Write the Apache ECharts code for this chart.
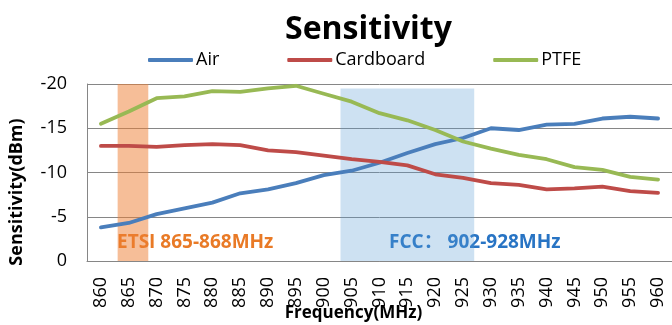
<!DOCTYPE html>
<html>
<head>
<meta charset="utf-8">
<script src="https://cdn.jsdelivr.net/npm/echarts@6/dist/echarts.min.js"></script>
<style>
  html, body { margin: 0; padding: 0; background: #fff; }
  #chart { width: 672px; height: 325px; }
</style>
</head>
<body>
<div id="chart"></div>
<script>
// Frequency steps (MHz) along the category axis
const frequencies = ['860','865','870','875','880','885','890','895','900','905','910',
                     '915','920','925','930','935','940','945','950','955','960'];

// Measured sensitivity (dBm) per mounting surface
const air = [-3.8, -4.3, -5.3, -5.95, -6.6, -7.65, -8.1, -8.8, -9.7, -10.2, -11.1,
             -12.2, -13.2, -13.9, -15.0, -14.8, -15.4, -15.5, -16.1, -16.3, -16.1];
const cardboard = [-13.0, -13.0, -12.9, -13.1, -13.2, -13.1, -12.5, -12.3, -11.9, -11.5, -11.2,
                   -10.8, -9.8, -9.4, -8.8, -8.6, -8.1, -8.2, -8.4, -7.9, -7.7];
const ptfe = [-15.5, -16.9, -18.4, -18.6, -19.2, -19.1, -19.5, -19.8, -18.9, -18.0, -16.7,
              -15.9, -14.8, -13.5, -12.7, -12.0, -11.5, -10.6, -10.3, -9.5, -9.2];

// Regulatory bands, in MHz, and their shaded heights (dBm)
const etsiBand = [863, 868.5, -20];
const fccBand = [903, 927, -19.5];

const seriesNames = ['Air', 'Cardboard', 'PTFE'];
const yTicks = { min: -20, max: 0, step: 5 };

const FONT = '"Open Sans", "Noto Sans CJK SC", sans-serif';

const chart = echarts.init(document.getElementById('chart'));

function lineSeries(name, data, color) {
  return {
    name: name,
    type: 'line',
    data: data,
    xAxisIndex: 0,
    yAxisIndex: 0,
    symbol: 'none',
    showSymbol: false,
    z: 2,
    lineStyle: { color: color, width: 3.8, join: 'round', cap: 'round' },
    itemStyle: { color: color }
  };
}

chart.setOption({
  animation: false,
  backgroundColor: '#fff',
  textStyle: { fontFamily: FONT },
  title: {
    text: 'Sensitivity',
    left: 280,
    top: 9,
    textStyle: { fontFamily: FONT, fontSize: 32, fontWeight: 'bold', color: '#000' }
  },
  legend: {
    data: seriesNames,
    left: 143,
    top: 46,
    itemWidth: 45,
    itemHeight: 4,
    itemGap: 68,
    icon: 'roundRect',
    textStyle: { fontFamily: FONT, fontSize: 18, color: '#000', padding: [0, 0, 0, -2] }
  },
  grid: { left: 87, right: 0, top: 84, bottom: 64, containLabel: false, outerBoundsMode: 'none' },
  xAxis: [
    {
      type: 'category',
      data: frequencies,
      boundaryGap: true,
      position: 'bottom',
      axisLine: { show: true, onZero: false, lineStyle: { color: '#868686', width: 1 } },
      axisTick: { show: false },
      axisLabel: { rotate: 90, margin: 16, fontFamily: FONT, fontSize: 18, color: '#000' },
      name: 'Frequency(MHz)',
      nameLocation: 'middle',
      nameGap: 44,
      nameMoveOverlap: false,
      nameTextStyle: { fontFamily: FONT, fontSize: 17, fontWeight: 'bold', color: '#000', padding: [0, 52, 0, 0] }
    },
    {
      // hidden linear frequency axis used to place the band shading in MHz
      type: 'value',
      min: 857.5,
      max: 962.5,
      show: false
    }
  ],
  yAxis: {
    type: 'value',
    min: yTicks.min,
    max: yTicks.max,
    interval: yTicks.step,
    inverse: true,
    axisLine: { show: true, lineStyle: { color: '#868686', width: 1 } },
    axisTick: { show: false },
    splitLine: { show: true, lineStyle: { color: '#868686', width: 1 } },
    axisLabel: { margin: 20, fontFamily: FONT, fontSize: 18, color: '#000' }
  },
  graphic: [
    {
      // vertical axis title
      type: 'text',
      x: 17,
      y: 192,
      rotation: Math.PI / 2,
      z: 0,
      style: { text: 'Sensitivity(dBm)', fontFamily: FONT, fontSize: 18, fontWeight: 'bold', fill: '#000',
               align: 'center', verticalAlign: 'middle' }
    },
    {
      type: 'text',
      left: 117,
      top: 233,
      z: 0,
      style: { text: 'ETSI 865-868MHz', fontFamily: FONT, fontSize: 19, fontWeight: 'bold', fill: '#E97A26' }
    },
    {
      type: 'text',
      left: 389,
      top: 233,
      z: 0,
      style: { text: 'FCC： 902-928MHz', fontFamily: FONT, fontSize: 19, fontWeight: 'bold', fill: '#2874C4' }
    }
  ],
  series: [
    lineSeries('Air', air, '#4A7EBB'),
    lineSeries('Cardboard', cardboard, '#BE4B48'),
    lineSeries('PTFE', ptfe, '#98B954'),
    {
      name: 'bands',
      type: 'line',
      xAxisIndex: 1,
      yAxisIndex: 0,
      data: [],
      z: 5,
      silent: true,
      markArea: {
        silent: true,
        label: { show: false },
        data: [
          [
            { xAxis: etsiBand[0], yAxis: etsiBand[2], itemStyle: { color: 'rgba(237,125,49,0.5)' } },
            { xAxis: etsiBand[1], yAxis: 0 }
          ],
          [
            { xAxis: fccBand[0], yAxis: fccBand[2], itemStyle: { color: 'rgba(91,155,213,0.3)' } },
            { xAxis: fccBand[1], yAxis: 0 }
          ]
        ]
      }
    }
  ]
});
</script>
</body>
</html>
